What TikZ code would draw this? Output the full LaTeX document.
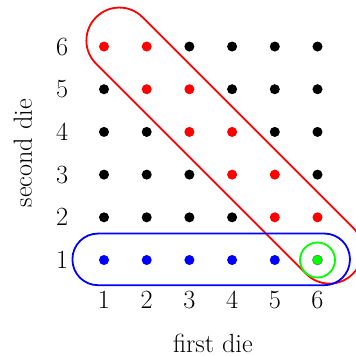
\documentclass[tikz,border=0pt]{standalone}
\begin{document}
\begin{tikzpicture}[x=1cm,y=1cm,
  dotmark/.style={circle,fill=#1,inner sep=0pt,minimum size=0.235cm},
  lbl/.style={font=\fontsize{17.5}{21}\selectfont},
  ring/.style={line width=1.2pt}]
\useasboundingbox (-1.436,-1.248) rectangle (6.90,7.09);
\clip (-1.436,-1.248) rectangle (6.90,7.09);
% dots
\foreach \i in {1,...,6}{
  \foreach \j in {1,...,6}{
    \pgfmathtruncatemacro{\s}{\i+\j}
    \ifnum\j=1
      \ifnum\i=6
        \node[dotmark=green,draw=black!60,line width=0.3pt] (d\i\j) at (\i,\j) {};
      \else
        \node[dotmark=blue] (d\i\j) at (\i,\j) {};
      \fi
    \else
      \ifnum\s=7
        \node[dotmark=red] (d\i\j) at (\i,\j) {};
      \else\ifnum\s=8
        \node[dotmark=red] (d\i\j) at (\i,\j) {};
      \else
        \node[dotmark=black] (d\i\j) at (\i,\j) {};
      \fi\fi
    \fi
  }
}
% axis labels
\foreach \i in {1,...,6}{
  \node[lbl] (x\i) at (\i,0.06) {\i};
  \node[lbl] (y\i) at (0.02,\i) {\i};
}
\node[lbl] (xl) at (3.55,-0.96) {first die};
\node[lbl,rotate=90] (yl) at (-0.9,3.5) {second die};
% red band: cap centres (1.36,6.14) and (6.28,1.22), midpoint (3.82,3.68)
\draw[ring,red,rotate around={-45:(3.82,3.68)},rounded corners=0.765cm]
  (-0.43,2.91) rectangle (8.07,4.45);
% blue band
\draw[ring,blue,rounded corners=0.6cm] (0.26,0.41) rectangle (6.76,1.62);
% green circle
\node[ring,draw=green,circle,minimum size=0.82cm,inner sep=0pt] (g) at (d61) {};
\end{tikzpicture}
\end{document}
